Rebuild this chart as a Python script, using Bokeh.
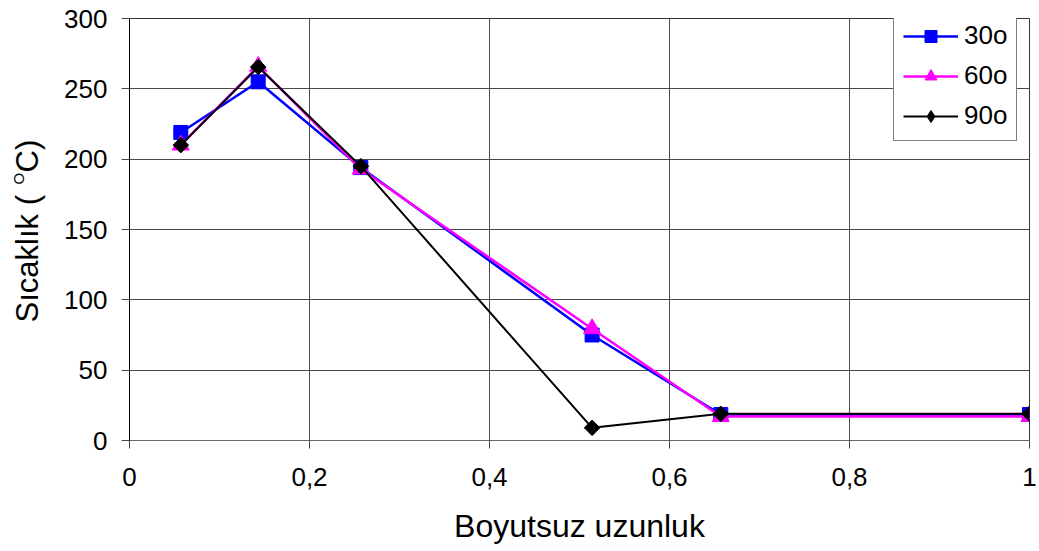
from bokeh.plotting import figure
from bokeh.models import FixedTicker, Range1d, Legend, LegendItem
from bokeh.layouts import row
from bokeh.core.properties import value
from bokeh.embed import file_html
from bokeh.resources import INLINE
import math

# ---- data ----
x_vals = [0.057, 0.143, 0.257, 0.514, 0.657, 1.0]
s30 = [219, 255, 194, 75, 18.5, 18.5]
s60 = [210, 266, 193, 79.5, 17, 17]
s90 = [210, 265.5, 195, 9, 19, 19]
series_names = ["30o", "60o", "90o"]
x_ticks = [0, 0.2, 0.4, 0.6, 0.8, 1.0]
x_tick_labels = ["0", "0,2", "0,4", "0,6", "0,8", "1"]
y_ticks = [0, 50, 100, 150, 200, 250, 300]
x_title = "Boyutsuz uzunluk"
y_title_parts = ["Sıcaklık ( ", "O", "C)"]

FONT = "Liberation Sans"
H = 551
LEFT_W = 50
TOP, BOTTOM = 18, 111

# ---- narrow left panel holding the rotated y-axis title (panel-pixel coordinates) ----
t = figure(width=LEFT_W, height=H, x_range=Range1d(0, LEFT_W), y_range=Range1d(BOTTOM, H - TOP),
           x_axis_type=None, y_axis_type=None, output_backend="svg", toolbar_location=None,
           min_border_left=0, min_border_right=0, min_border_top=TOP, min_border_bottom=BOTTOM)
t.grid.visible = False
t.outline_line_color = None
t.background_fill_color = "white"
t.border_fill_color = "white"
title_x = [27.3, 17.8, 27.3]
title_y = [H - 322, H - 184, H - 172]
title_sizes = ["31px", "15px", "31px"]
for tx, ty, txt, fs in zip(title_x, title_y, y_title_parts, title_sizes):
    t.text(x=[tx], y=[ty], text=[txt], angle=math.pi / 2,
           text_font=value(FONT), text_font_size=fs, text_color="black",
           text_align="left", text_baseline="middle")

# ---- main chart ----
p = figure(frame_width=900, frame_height=422,
           min_border_left=129 - LEFT_W, min_border_right=10, min_border_top=TOP, min_border_bottom=BOTTOM,
           x_range=Range1d(0, 1), y_range=Range1d(0, 300),
           output_backend="svg", toolbar_location=None)

p.background_fill_color = "white"
p.border_fill_color = "white"
p.outline_line_color = "#333333"
p.outline_line_width = 1

p.xaxis.ticker = FixedTicker(ticks=x_ticks)
p.xaxis.major_label_overrides = {tk: lb for tk, lb in zip(x_ticks, x_tick_labels)}
p.yaxis.ticker = FixedTicker(ticks=y_ticks)
for ax in (p.xaxis, p.yaxis):
    ax.major_label_text_font = FONT
    ax.major_label_text_font_size = "26px"
    ax.major_label_text_color = "black"
    ax.major_tick_in = 0
    ax.major_tick_out = 8
    ax.minor_tick_in = 0
    ax.minor_tick_out = 0
    ax.major_tick_line_color = "#444444"
    ax.axis_label_text_font = FONT
    ax.axis_label_text_font_style = "normal"
    ax.axis_label_text_color = "black"
p.xaxis.axis_line_color = "#666666"
p.yaxis.axis_line_color = "black"
p.xaxis.major_label_standoff = 19
p.yaxis.major_label_standoff = 14
p.xaxis.axis_label = x_title
p.xaxis.axis_label_text_font_size = "32px"
p.xaxis.axis_label_standoff = 19

p.xgrid.ticker = FixedTicker(ticks=x_ticks)
p.ygrid.ticker = FixedTicker(ticks=y_ticks)
p.grid.grid_line_color = "#4a4a4a"
p.grid.grid_line_width = 1

r30l = p.line(x_vals, s30, line_color="#0000FF", line_width=2.5)
r30m = p.scatter(x_vals, s30, marker="square", size=14, fill_color="#0000FF", line_color="#0000FF")
r60l = p.line(x_vals, s60, line_color="#FF00FF", line_width=2.5)
r60m = p.scatter(x_vals, s60, marker="triangle", size=17, fill_color="#FF00FF", line_color="#FF00FF")
r90l = p.line(x_vals, s90, line_color="black", line_width=2)
r90m = p.scatter(x_vals, s90, marker="square", size=11, angle=math.pi / 4,
                 fill_color="black", line_color="black")
# hidden twin used only for the legend swatch (legend glyphs are drawn unrotated)
r90leg = p.scatter(x_vals, s90, marker="diamond", size=20, fill_color="black",
                   line_color="black", visible=False)

legend = Legend(items=[
    LegendItem(label=series_names[0], renderers=[r30l, r30m]),
    LegendItem(label=series_names[1], renderers=[r60l, r60m]),
    LegendItem(label=series_names[2], renderers=[r90l, r90leg]),
], location=(764, 299))
legend.label_text_font = FONT
legend.label_text_font_size = "26px"
legend.label_text_color = "black"
legend.glyph_width = 55
legend.glyph_height = 30
legend.label_height = 30
legend.label_standoff = 6
legend.spacing = 9
legend.padding = 9
legend.margin = 0
legend.border_line_color = "black"
legend.border_line_width = 1
legend.background_fill_color = "white"
legend.background_fill_alpha = 1
legend.inactive_fill_alpha = 0
p.add_layout(legend, "center")

layout = row(t, p, spacing=0)
open("out.html", "w").write(file_html(layout, INLINE))
